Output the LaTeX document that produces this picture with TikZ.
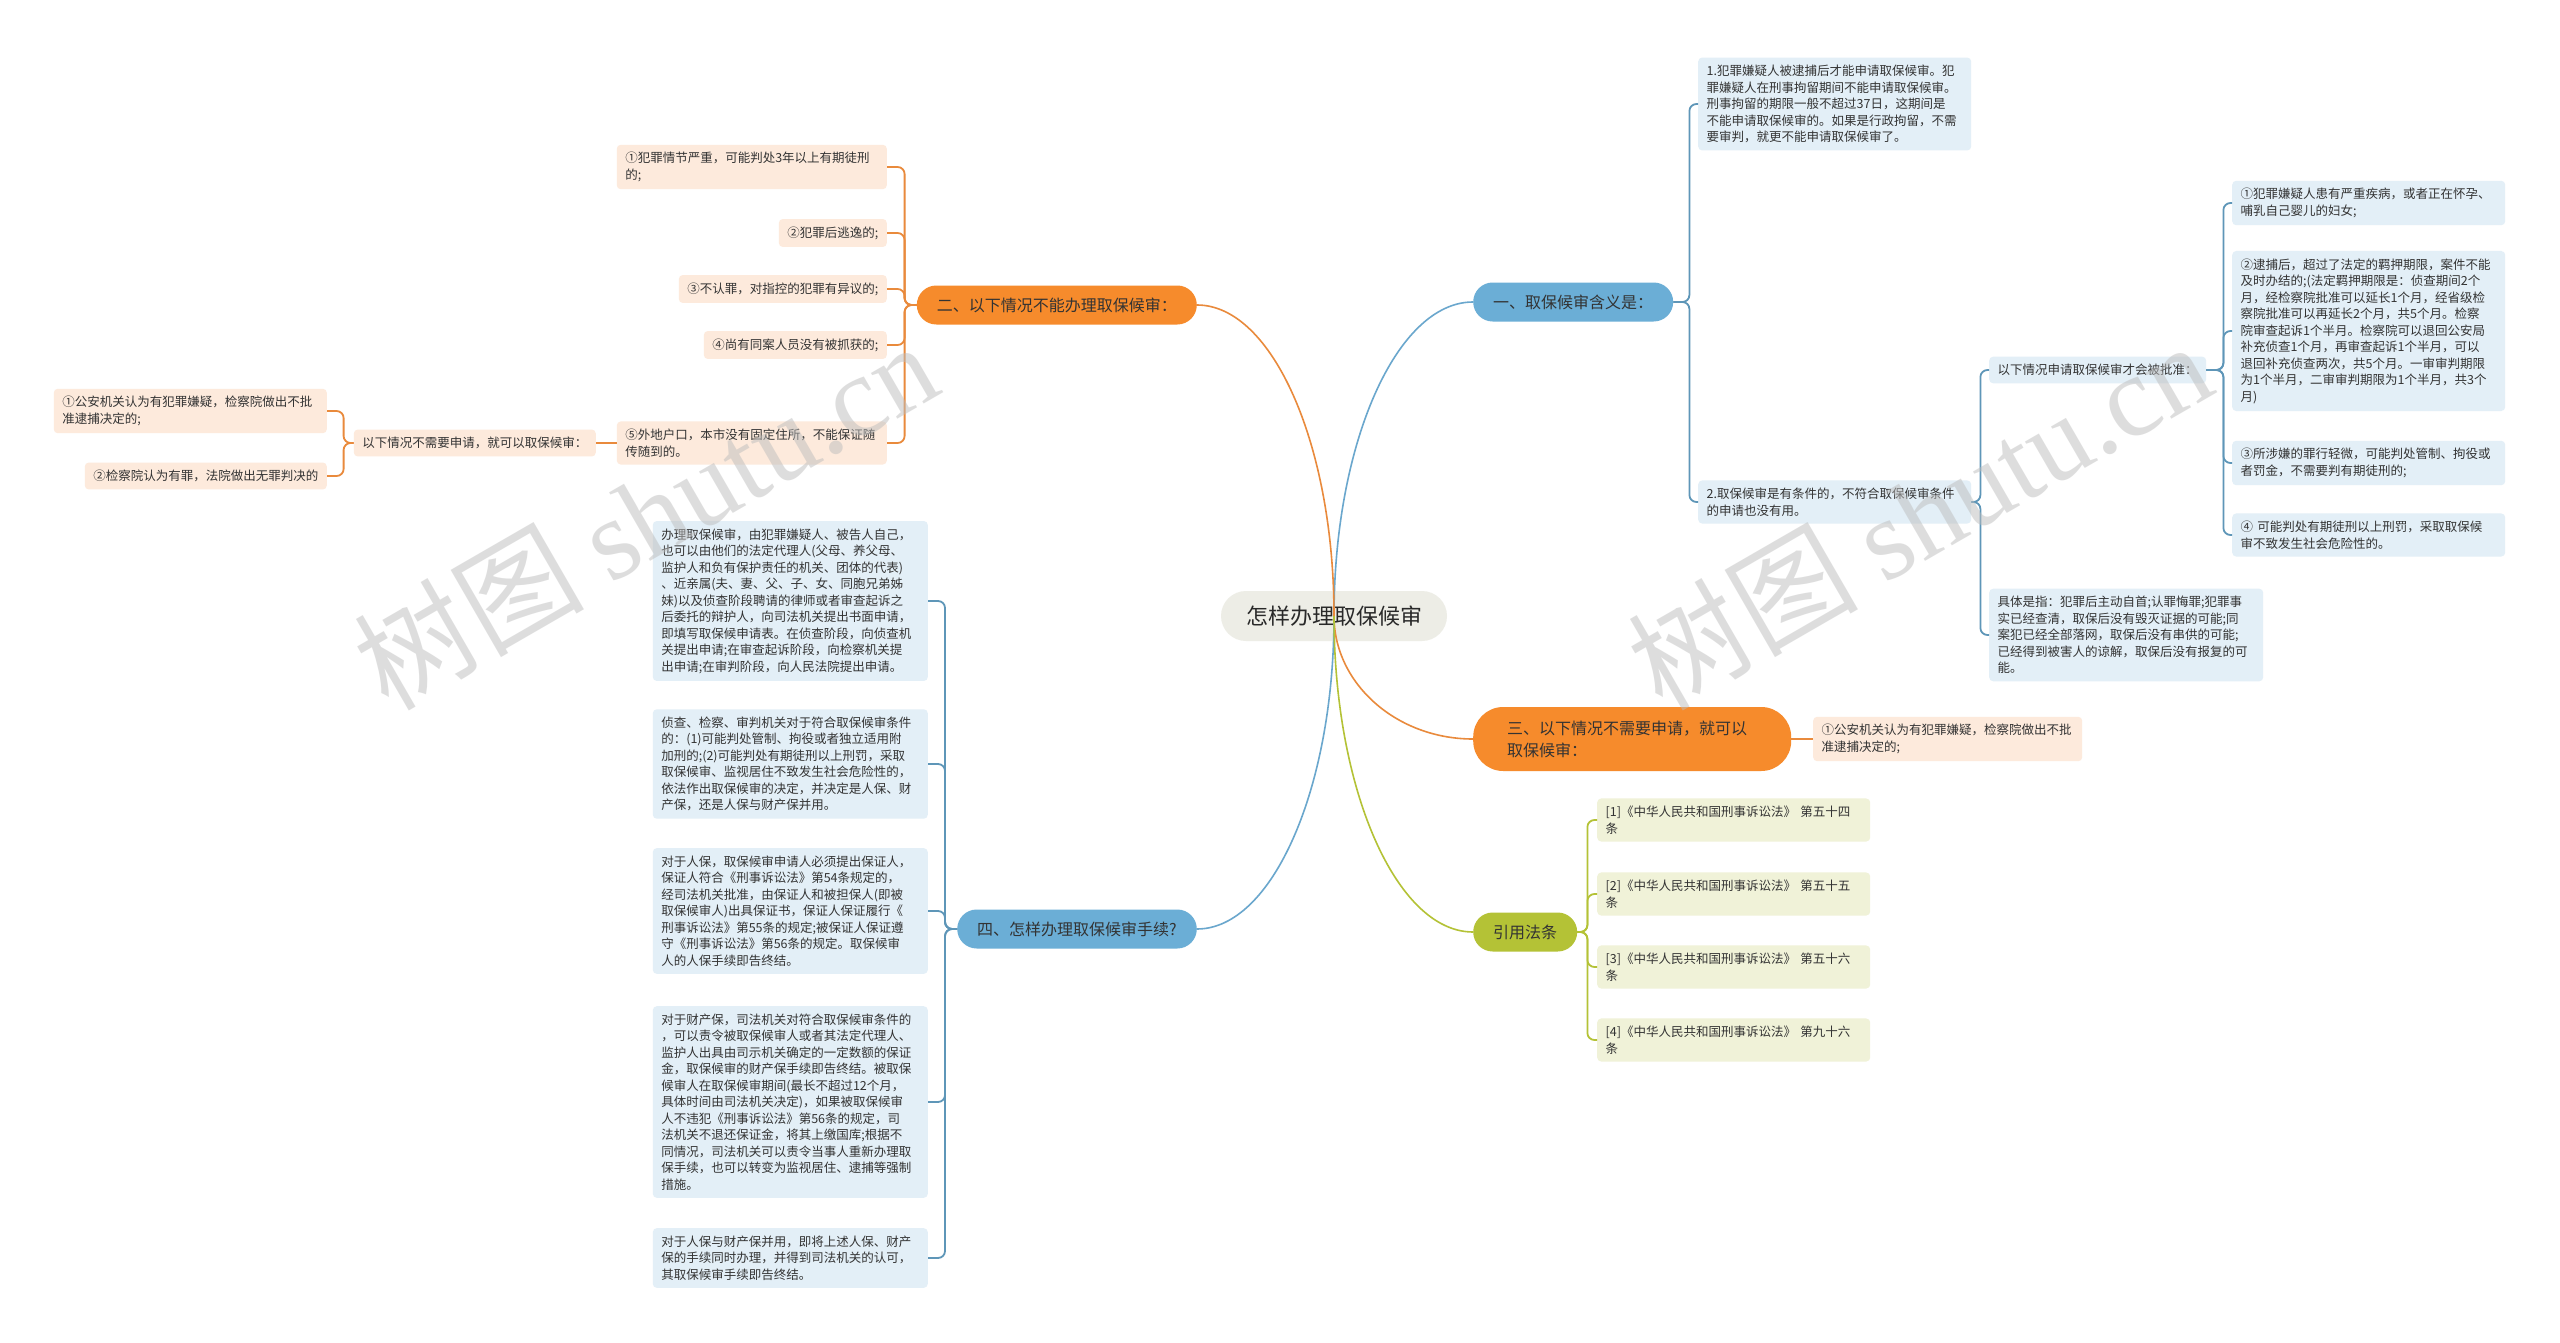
\documentclass[tikz,border=0pt]{standalone}
\usepackage{fontspec}
\setmainfont{Noto Sans CJK SC}
\newfontfamily\wmserif{Liberation Serif}
\usetikzlibrary{calc}
\definecolor{txt}{HTML}{333333}
\definecolor{cblue}{HTML}{6BAED6}
\definecolor{corange}{HTML}{F68B2C}
\definecolor{cgreen}{HTML}{B4C236}
\definecolor{croot}{HTML}{EDEDE6}
\definecolor{lblue}{HTML}{E3EFF7}
\definecolor{lorange}{HTML}{FDEADC}
\definecolor{lgreen}{HTML}{F0F2D8}
\definecolor{mblue}{HTML}{6AA7CD}
\definecolor{morange}{HTML}{E98A3C}
\definecolor{mgreen}{HTML}{B4C236}
\definecolor{sblue}{HTML}{5E96B8}
\definecolor{wmgray}{HTML}{BDBDBD}
\newcommand\mainlink[2]{\draw[mainline,draw=#1] (root.center) .. controls ($(root.center)!0.55!(root.center|-#2)$) and ($(#2)!0.55!(root.center|-#2)$) .. (#2);}
\newcommand\sublink[4]{\draw[subline,draw=#1] (#2) -- ++(#3,0) |- (#4);}
\tikzset{
  leaf/.style={rounded corners=4pt, inner xsep=8.5pt, inner ysep=7.5pt,
    font=\fontsize{12.5}{16.5}\selectfont, text=txt, align=left},
  leafb/.style={leaf, fill=lblue},
  leafo/.style={leaf, fill=lorange},
  leafg/.style={leaf, fill=lgreen},
  branch/.style={rounded corners=19.5pt, minimum height=39pt, inner xsep=20pt,
    inner ysep=4pt, font=\fontsize{16}{22}\selectfont, text=txt},
  rootnode/.style={fill=croot, rounded corners=25pt, minimum height=50pt,
    minimum width=226pt, font=\fontsize{22}{26}\selectfont, text=txt!80!black},
  mainline/.style={line width=1.6pt},
  subline/.style={line width=1.8pt, rounded corners=7pt},
  wmark/.style={rotate=30, text=wmgray, opacity=0.5}
}
\begin{document}
\begin{tikzpicture}[x=1pt,y=-1pt]
\fill[white] (0,0) rectangle (2560,1343);
\useasboundingbox (0,0) rectangle (2560,1343);

% root
\node[rootnode] (root) at (1334,616) {怎样办理取保候审};

% branches
\node[branch, fill=cblue, anchor=west] (b1) at (1473,302) {一、取保候审含义是：};
\node[branch, fill=corange, anchor=east] (b2) at (1197,305) {二、以下情况不能办理取保候审：};
\node[branch, fill=corange, anchor=west, text width=250pt, align=left, inner xsep=34pt,
  minimum height=64pt, rounded corners=30pt] (b3) at (1473,739) {三、以下情况不需要申请，就可以\\取保候审：};
\node[branch, fill=cblue, anchor=east] (b4) at (1197,929) {四、怎样办理取保候审手续?};
\node[branch, fill=cgreen, anchor=west] (b5) at (1473,932) {引用法条};

% branch 1 children
\node[leafb, anchor=west, text width=256pt] (n11) at (1698,104) {1.犯罪嫌疑人被逮捕后才能申请取保候审。犯\\罪嫌疑人在刑事拘留期间不能申请取保候审。\\刑事拘留的期限一般不超过37日，这期间是\\不能申请取保候审的。如果是行政拘留，不需\\要审判，就更不能申请取保候审了。};
\node[leafb, anchor=west, text width=256pt] (n12) at (1698,502) {2.取保候审是有条件的，不符合取保候审条件\\的申请也没有用。};
\node[leafb, anchor=west] (n121) at (1989,370) {以下情况申请取保候审才会被批准：};
\node[leafb, anchor=west, text width=257pt] (n122) at (1989,635) {具体是指：犯罪后主动自首;认罪悔罪;犯罪事\\实已经查清，取保后没有毁灭证据的可能;同\\案犯已经全部落网，取保后没有串供的可能;\\已经得到被害人的谅解，取保后没有报复的可\\能。};
\node[leafb, anchor=west, text width=256pt] (r1) at (2232,203) {①犯罪嫌疑人患有严重疾病，或者正在怀孕、\\哺乳自己婴儿的妇女;};
\node[leafb, anchor=west, text width=256pt] (r2) at (2232,331) {②逮捕后，超过了法定的羁押期限，案件不能\\及时办结的;(法定羁押期限是：侦查期间2个\\月，经检察院批准可以延长1个月，经省级检\\察院批准可以再延长2个月，共5个月。检察\\院审查起诉1个半月。检察院可以退回公安局\\补充侦查1个月，再审查起诉1个半月，可以\\退回补充侦查两次，共5个月。一审审判期限\\为1个半月，二审审判期限为1个半月，共3个\\月)};
\node[leafb, anchor=west, text width=256pt] (r3) at (2232,463) {③所涉嫌的罪行轻微，可能判处管制、拘役或\\者罚金，不需要判有期徒刑的;};
\node[leafb, anchor=west, text width=256pt] (r4) at (2232,535) {④~可能判处有期徒刑以上刑罚，采取取保候\\审不致发生社会危险性的。};

% branch 3 child
\node[leafo, anchor=west, text width=252pt] (n31) at (1813,739) {①公安机关认为有犯罪嫌疑，检察院做出不批\\准逮捕决定的;};

% branch 5 children
\node[leafg, anchor=west, text width=256pt] (c1) at (1597,820) {[1]《中华人民共和国刑事诉讼法》~第五十四\\条};
\node[leafg, anchor=west, text width=256pt] (c2) at (1597,894) {[2]《中华人民共和国刑事诉讼法》~第五十五\\条};
\node[leafg, anchor=west, text width=256pt] (c3) at (1597,967) {[3]《中华人民共和国刑事诉讼法》~第五十六\\条};
\node[leafg, anchor=west, text width=256pt] (c4) at (1597,1040) {[4]《中华人民共和国刑事诉讼法》~第九十六\\条};

% branch 2 children
\node[leafo, anchor=east, text width=253pt] (o1) at (887,167) {①犯罪情节严重，可能判处3年以上有期徒刑\\的;};
\node[leafo, anchor=east] (o2) at (887,233) {②犯罪后逃逸的;};
\node[leafo, anchor=east] (o3) at (887,289) {③不认罪，对指控的犯罪有异议的;};
\node[leafo, anchor=east] (o4) at (887,345) {④尚有同案人员没有被抓获的;};
\node[leafo, anchor=east, text width=253pt] (o5) at (887,443) {⑤外地户口，本市没有固定住所，不能保证随\\传随到的。};
\node[leafo, anchor=east] (o6) at (596,443) {以下情况不需要申请，就可以取保候审：};
\node[leafo, anchor=east, text width=256pt] (o61) at (327,411) {①公安机关认为有犯罪嫌疑，检察院做出不批\\准逮捕决定的;};
\node[leafo, anchor=east] (o62) at (327,476) {②检察院认为有罪，法院做出无罪判决的};

% branch 4 children
\node[leafb, anchor=east, text width=258pt] (d1) at (928,601) {办理取保候审，由犯罪嫌疑人、被告人自己，\\也可以由他们的法定代理人(父母、养父母、\\监护人和负有保护责任的机关、团体的代表)\\、近亲属(夫、妻、父、子、女、同胞兄弟姊\\妹)以及侦查阶段聘请的律师或者审查起诉之\\后委托的辩护人，向司法机关提出书面申请，\\即填写取保候申请表。在侦查阶段，向侦查机\\关提出申请;在审查起诉阶段，向检察机关提\\出申请;在审判阶段，向人民法院提出申请。};
\node[leafb, anchor=east, text width=258pt] (d2) at (928,764) {侦查、检察、审判机关对于符合取保候审条件\\的：(1)可能判处管制、拘役或者独立适用附\\加刑的;(2)可能判处有期徒刑以上刑罚，采取\\取保候审、监视居住不致发生社会危险性的，\\依法作出取保候审的决定，并决定是人保、财\\产保，还是人保与财产保并用。};
\node[leafb, anchor=east, text width=258pt] (d3) at (928,911) {对于人保，取保候审申请人必须提出保证人，\\保证人符合《刑事诉讼法》第54条规定的，\\经司法机关批准，由保证人和被担保人(即被\\取保候审人)出具保证书，保证人保证履行《\\刑事诉讼法》第55条的规定;被保证人保证遵\\守《刑事诉讼法》第56条的规定。取保候审\\人的人保手续即告终结。};
\node[leafb, anchor=east, text width=258pt] (d4) at (928,1102) {对于财产保，司法机关对符合取保候审条件的\\，可以责令被取保候审人或者其法定代理人、\\监护人出具由司示机关确定的一定数额的保证\\金，取保候审的财产保手续即告终结。被取保\\候审人在取保候审期间(最长不超过12个月，\\具体时间由司法机关决定)，如果被取保候审\\人不违犯《刑事诉讼法》第56条的规定，司\\法机关不退还保证金，将其上缴国库;根据不\\同情况，司法机关可以责令当事人重新办理取\\保手续，也可以转变为监视居住、逮捕等强制\\措施。};
\node[leafb, anchor=east, text width=258pt] (d5) at (928,1258) {对于人保与财产保并用，即将上述人保、财产\\保的手续同时办理，并得到司法机关的认可，\\其取保候审手续即告终结。};

% main links
\mainlink{mblue}{b1.west}
\mainlink{morange}{b2.east}
\mainlink{morange}{b3.west}
\mainlink{mblue}{b4.east}
\mainlink{mgreen}{b5.west}

% sub links
\sublink{sblue}{b1.east}{16}{n11.west}
\sublink{sblue}{b1.east}{16}{n12.west}
\sublink{sblue}{n12.east}{9}{n121.west}
\sublink{sblue}{n12.east}{9}{n122.west}
\sublink{sblue}{n121.east}{17}{r1.west}
\sublink{sblue}{n121.east}{17}{r2.west}
\sublink{sblue}{n121.east}{17}{r3.west}
\sublink{sblue}{n121.east}{17}{r4.west}
\draw[subline,draw=morange] (b3.east) -- (n31.west);
\sublink{mgreen}{b5.east}{10}{c1.west}
\sublink{mgreen}{b5.east}{10}{c2.west}
\sublink{mgreen}{b5.east}{10}{c3.west}
\sublink{mgreen}{b5.east}{10}{c4.west}
\sublink{morange}{b2.west}{-12}{o1.east}
\sublink{morange}{b2.west}{-12}{o2.east}
\sublink{morange}{b2.west}{-12}{o3.east}
\sublink{morange}{b2.west}{-12}{o4.east}
\sublink{morange}{b2.west}{-12}{o5.east}
\draw[subline,draw=morange] (o5.west) -- (o6.east);
\sublink{morange}{o6.west}{-10}{o61.east}
\sublink{morange}{o6.west}{-10}{o62.east}
\sublink{sblue}{b4.west}{-12}{d1.east}
\sublink{sblue}{b4.west}{-12}{d2.east}
\sublink{sblue}{b4.west}{-12}{d3.east}
\sublink{sblue}{b4.west}{-12}{d4.east}
\sublink{sblue}{b4.west}{-12}{d5.east}

% watermarks
\node[wmark] (wm1) at (645,514) {\fontsize{115}{115}\selectfont 树图 {\wmserif shutu.cn}};
\node[wmark] (wm2) at (1919,514) {\fontsize{115}{115}\selectfont 树图 {\wmserif shutu.cn}};
\end{tikzpicture}
\end{document}
